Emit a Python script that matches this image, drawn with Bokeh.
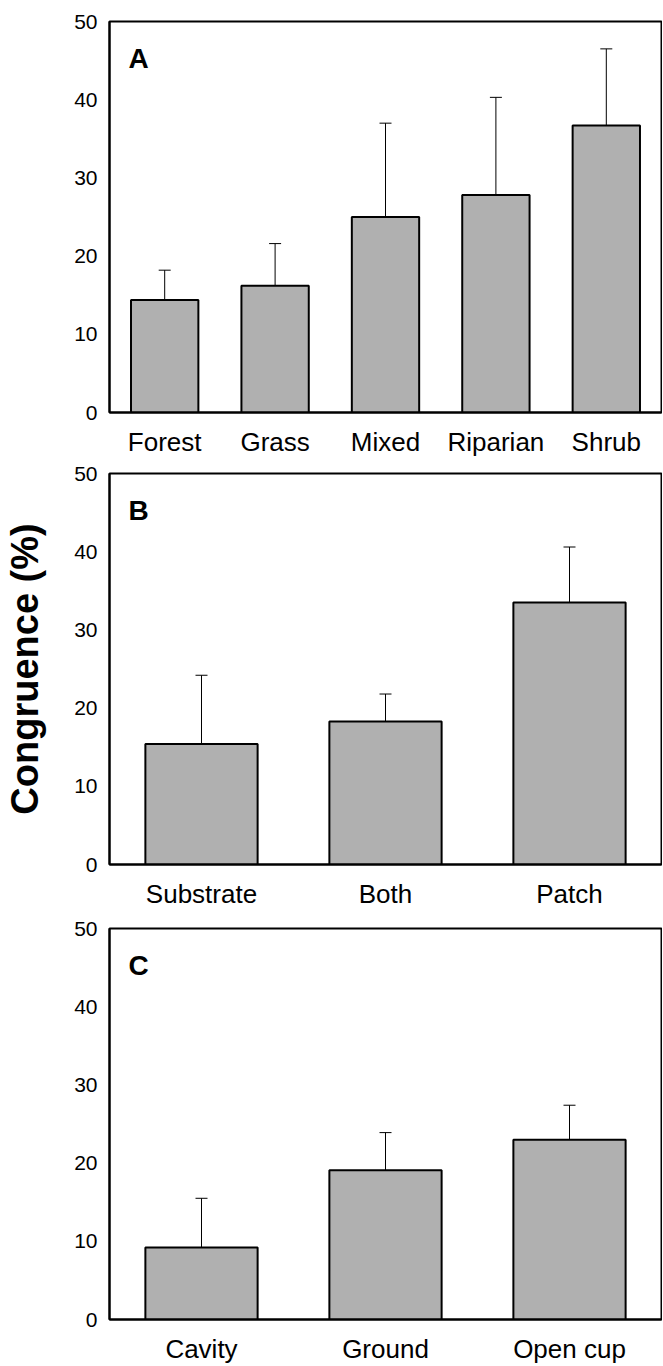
from bokeh.plotting import figure
from bokeh.models import (ColumnDataSource, FactorRange, Range1d, FixedTicker,
                          Whisker, TeeHead, Label)
from bokeh.layouts import column
from bokeh.embed import file_html
from bokeh.resources import INLINE

# ---- data ----
habitat_cats = ["Forest", "Grass", "Mixed", "Riparian", "Shrub"]
habitat_mean = [14.4, 16.2, 25.0, 27.8, 36.7]
habitat_upper = [18.2, 21.6, 37.0, 40.3, 46.5]

scale_cats = ["Substrate", "Both", "Patch"]
scale_mean = [15.4, 18.3, 33.5]
scale_upper = [24.2, 21.8, 40.6]

nest_cats = ["Cavity", "Ground", "Open cup"]
nest_mean = [9.2, 19.1, 23.0]
nest_upper = [15.5, 23.9, 27.4]

y_ticks = [0, 10, 20, 30, 40, 50]
panel_letters = ["A", "B", "C"]

FONT = "Liberation Sans"


def make_panel(cats, means, uppers, letter, height, top_border, bottom_border, ylabel=None):
    p = figure(x_range=FactorRange(*cats, range_padding=0),
               y_range=Range1d(0, 50),
               width=662, height=height,
               min_border_left=109, min_border_right=1,
               min_border_top=top_border, min_border_bottom=bottom_border,
               output_backend="svg", toolbar_location=None, tools="")
    src = ColumnDataSource(dict(x=cats, top=means, upper=uppers))
    p.vbar(x="x", top="top", width=0.61, source=src,
           fill_color="#b0b0b0", line_color="black", line_width=2)
    w = Whisker(base="x", lower="top", upper="upper", source=src,
                dimension="height", line_color="black", line_width=1,
                lower_head=None,
                upper_head=TeeHead(size=12, line_color="black", line_width=1))
    p.add_layout(w)

    p.xgrid.visible = False
    p.ygrid.visible = False
    p.outline_line_color = "black"
    p.outline_line_width = 2
    p.outline_line_alpha = 1
    p.background_fill_color = "white"
    p.border_fill_color = "white"

    p.yaxis.ticker = FixedTicker(ticks=y_ticks)
    for ax in (p.xaxis[0], p.yaxis[0]):
        ax.axis_line_color = "black"
        ax.axis_line_width = 2
        ax.major_tick_line_color = None
        ax.minor_tick_line_color = None
        ax.major_tick_out = 0
        ax.major_tick_in = 0
        ax.minor_tick_out = 0
        ax.major_label_text_font = FONT
        ax.major_label_text_color = "black"
    p.yaxis.major_label_text_font_size = "21px"
    p.yaxis.major_label_standoff = 12
    p.xaxis.major_label_text_font_size = "26px"
    p.xaxis.major_label_standoff = 14

    if ylabel:
        p.yaxis.axis_label = ylabel
        p.yaxis.axis_label_text_font = FONT
        p.yaxis.axis_label_text_font_size = "38px"
        p.yaxis.axis_label_text_font_style = "bold"
        p.yaxis.axis_label_text_color = "black"
        p.yaxis.axis_label_standoff = 25

    lab = Label(x=19, y=354, x_units="screen", y_units="screen", text=letter,
                text_font=FONT, text_font_size="28px", text_font_style="bold",
                text_color="black", text_baseline="alphabetic", text_align="left")
    p.add_layout(lab)
    return p


pa = make_panel(habitat_cats, habitat_mean, habitat_upper, panel_letters[0], 460, 21, 48)
pb = make_panel(scale_cats, scale_mean, scale_upper, panel_letters[1], 453, 13, 49,
                ylabel="Congruence (%)")
pc = make_panel(nest_cats, nest_mean, nest_upper, panel_letters[2], 453, 15, 47)

layout = column(pa, pb, pc, spacing=0)
open("out.html", "w").write(file_html(layout, INLINE))
